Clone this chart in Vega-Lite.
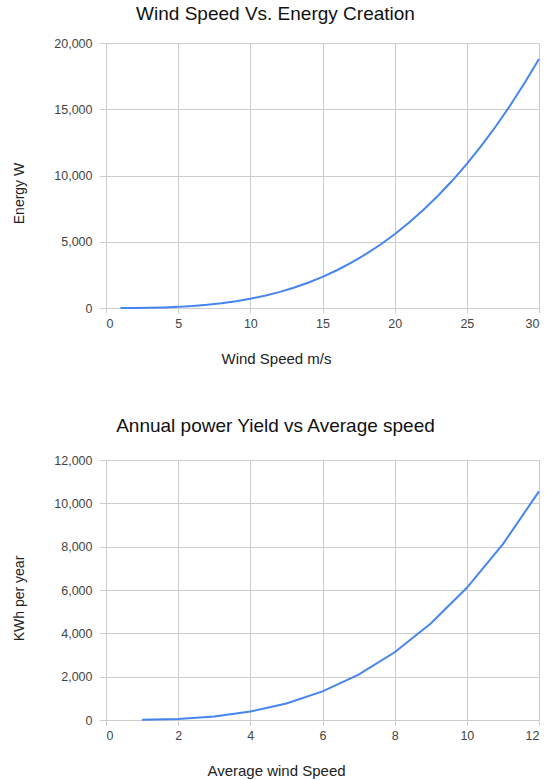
{
  "$schema": "https://vega.github.io/schema/vega-lite/v6.json",
  "padding": {"left": 12, "top": 5, "right": 0, "bottom": 2},
  "spacing": 51,
  "background": "white",
  "config": {
    "font": "Liberation Sans",
    "view": {"stroke": null},
    "axis": {
      "domain": false,
      "grid": true,
      "gridColor": "#cccccc",
      "gridWidth": 1,
      "tickColor": "#cccccc",
      "labelColor": "#444444",
      "labelFontSize": 12.5,
      "titleColor": "#222222",
      "titleFontWeight": "normal",
      "labelFont": "Liberation Sans",
      "titleFont": "Liberation Sans"
    },
    "axisX": {"tickSize": 5, "labelPadding": 4, "titleFontSize": 15},
    "axisY": {"tickSize": 7, "labelPadding": 7, "titleFontSize": 14},
    "title": {"fontSize": 19, "fontWeight": "normal", "color": "#111111", "anchor": "middle", "font": "Liberation Sans"}
  },
  "vconcat": [
    {
      "width": 433,
      "height": 265,
      "title": {"text": "Wind Speed Vs. Energy Creation", "dx": -47, "offset": 13},
      "data": {
        "values": [
          {"speed": 1, "energy": 0}, {"speed": 2, "energy": 5}, {"speed": 3, "energy": 20},
          {"speed": 4, "energy": 45}, {"speed": 5, "energy": 85}, {"speed": 6, "energy": 150},
          {"speed": 7, "energy": 240}, {"speed": 8, "energy": 355}, {"speed": 9, "energy": 505},
          {"speed": 10, "energy": 695}, {"speed": 11, "energy": 925}, {"speed": 12, "energy": 1200},
          {"speed": 13, "energy": 1530}, {"speed": 14, "energy": 1910}, {"speed": 15, "energy": 2350},
          {"speed": 16, "energy": 2850}, {"speed": 17, "energy": 3420}, {"speed": 18, "energy": 4060},
          {"speed": 19, "energy": 4775}, {"speed": 20, "energy": 5570}, {"speed": 21, "energy": 6445},
          {"speed": 22, "energy": 7410}, {"speed": 23, "energy": 8470}, {"speed": 24, "energy": 9620},
          {"speed": 25, "energy": 10875}, {"speed": 26, "energy": 12235}, {"speed": 27, "energy": 13700},
          {"speed": 28, "energy": 15280}, {"speed": 29, "energy": 16975}, {"speed": 30, "energy": 18790}
        ]
      },
      "mark": {"type": "line", "color": "#4684ee", "strokeWidth": 2},
      "encoding": {
        "x": {
          "field": "speed", "type": "quantitative",
          "scale": {"domain": [0, 30], "nice": false, "zero": false},
          "axis": {"values": [0, 5, 10, 15, 20, 25, 30], "title": "Wind Speed m/s", "titleX": 170, "titleY": 50, "titleBaseline": "middle"}
        },
        "y": {
          "field": "energy", "type": "quantitative",
          "scale": {"domain": [0, 20000], "nice": false},
          "axis": {"values": [0, 5000, 10000, 15000, 20000], "format": ",d", "title": "Energy W", "titleX": -87, "titleY": 150, "titleBaseline": "middle"}
        }
      }
    },
    {
      "width": 433,
      "height": 260,
      "title": {"text": "Annual power Yield vs Average speed", "dx": -47, "offset": 18},
      "data": {
        "values": [
          {"speed": 1, "yield": 6}, {"speed": 2, "yield": 50}, {"speed": 3, "yield": 165},
          {"speed": 4, "yield": 390}, {"speed": 5, "yield": 765}, {"speed": 6, "yield": 1320},
          {"speed": 7, "yield": 2095}, {"speed": 8, "yield": 3125}, {"speed": 9, "yield": 4450},
          {"speed": 10, "yield": 6100}, {"speed": 11, "yield": 8120}, {"speed": 12, "yield": 10550}
        ]
      },
      "mark": {"type": "line", "color": "#4684ee", "strokeWidth": 2},
      "encoding": {
        "x": {
          "field": "speed", "type": "quantitative",
          "scale": {"domain": [0, 12], "nice": false, "zero": false},
          "axis": {"values": [0, 2, 4, 6, 8, 10, 12], "title": "Average wind Speed", "titleX": 170, "titleY": 50, "titleBaseline": "middle"}
        },
        "y": {
          "field": "yield", "type": "quantitative",
          "scale": {"domain": [0, 12000], "nice": false},
          "axis": {"values": [0, 2000, 4000, 6000, 8000, 10000, 12000], "format": ",d", "title": "KWh per year", "titleX": -87, "titleY": 138, "titleBaseline": "middle"}
        }
      }
    }
  ]
}
